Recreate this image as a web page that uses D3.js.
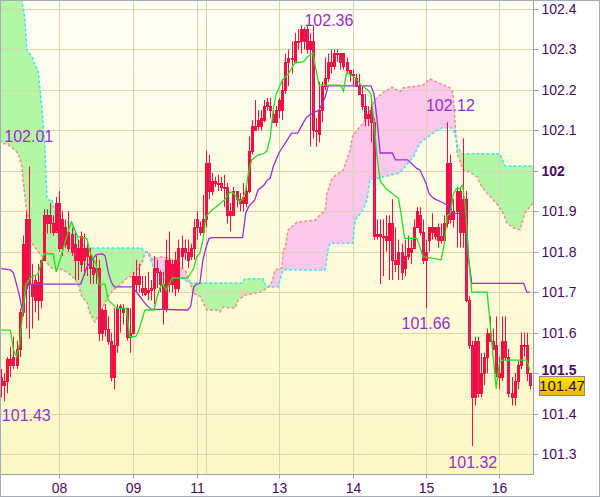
<!DOCTYPE html>
<html><head><meta charset="utf-8">
<script src="https://cdn.jsdelivr.net/npm/d3@7"></script>
<style>
body{margin:0;background:#fff}
svg{display:block}
text{font-family:"Liberation Sans",Arial,sans-serif}
</style>
</head><body>
<svg id="c" width="600" height="497"></svg>
<script>
// ---------- DATA (hourly candles, index 0 = first visible hour) ----------
// [open, high, low, close]
const candles = [
[101.49,101.51,101.44,101.47],[101.47,101.50,101.43,101.48],[101.48,101.54,101.45,101.535],[101.535,101.565,101.49,101.52],
[101.54,101.59,101.51,101.52],[101.52,101.58,101.51,101.56],[101.56,101.66,101.54,101.65],[101.65,101.84,101.64,101.82],
[101.71,101.90,101.61,101.88],[101.88,102.01,101.585,101.72],[101.72,101.77,101.61,101.69],[101.73,101.74,101.65,101.68],
[101.68,101.77,101.63,101.725],[101.68,101.78,101.66,101.78],[101.78,101.905,101.78,101.89],[101.89,101.905,101.845,101.87],
[101.89,101.92,101.845,101.87],[101.87,101.89,101.84,101.85],[101.85,101.935,101.85,101.92],[101.92,101.95,101.80,101.81],
[101.88,101.90,101.79,101.81],[101.82,101.88,101.81,101.86],[101.81,101.90,101.80,101.85],[101.845,101.86,101.79,101.80],
[101.82,101.845,101.73,101.78],[101.78,101.83,101.73,101.81],[101.77,101.85,101.75,101.84],[101.81,101.845,101.74,101.78],
[101.79,101.83,101.74,101.81],[101.79,101.81,101.72,101.76],[101.763,101.78,101.72,101.746],
[101.75,101.79,101.72,101.76],[101.76,101.78,101.58,101.60],[101.60,101.66,101.58,101.655],[101.655,101.67,101.59,101.61],
[101.61,101.64,101.57,101.58],[101.58,101.60,101.48,101.49],[101.49,101.66,101.46,101.57],[101.57,101.67,101.55,101.66],
[101.66,101.67,101.60,101.665],[101.66,101.67,101.62,101.65],[101.66,101.66,101.58,101.59],[101.59,101.66,101.55,101.60],
[101.60,101.75,101.60,101.74],[101.74,101.78,101.70,101.72],[101.74,101.77,101.70,101.72],[101.71,101.74,101.69,101.70],
[101.71,101.74,101.69,101.695],[101.70,101.75,101.68,101.705],[101.705,101.73,101.68,101.71],[101.71,101.79,101.67,101.76],
[101.76,101.78,101.71,101.75],[101.75,101.755,101.70,101.72],[101.72,101.75,101.62,101.66],[101.66,101.83,101.65,101.78],
[101.72,101.85,101.70,101.78],[101.77,101.78,101.70,101.72],[101.71,101.80,101.69,101.78],[101.71,101.83,101.70,101.81],
[101.79,101.84,101.76,101.81],[101.81,101.83,101.78,101.80],
[101.80,101.83,101.76,101.78],[101.79,101.82,101.78,101.81],[101.81,101.88,101.78,101.86],[101.88,101.90,101.83,101.86],
[101.86,101.875,101.84,101.85],[101.85,101.94,101.845,101.88],[101.88,102.05,101.86,102.02],[102.02,102.04,101.93,101.95],
[101.95,101.995,101.94,101.975],[101.975,101.985,101.96,101.97],[101.97,101.99,101.95,101.97],[101.97,101.985,101.95,101.96],
[101.96,101.99,101.91,101.96],[101.96,101.97,101.87,101.89],[101.89,101.92,101.85,101.90],[101.89,101.96,101.89,101.95],
[101.95,101.95,101.91,101.93],[101.93,101.945,101.90,101.92],[101.92,101.97,101.90,101.935],[101.92,101.97,101.91,101.95],
[101.95,102.085,101.945,102.05],[102.05,102.125,102.04,102.11],[102.10,102.175,102.10,102.11],[102.11,102.15,102.10,102.125],
[102.11,102.15,102.10,102.13],[102.126,102.175,102.12,102.16],[102.17,102.18,102.15,102.16],[102.15,102.18,102.13,102.16],
[102.14,102.15,102.12,102.12],[102.12,102.16,102.11,102.15],[102.15,102.18,102.13,102.175],[102.15,102.225,102.125,102.20],
[102.20,102.29,102.19,102.27],[102.27,102.30,102.21,102.28],[102.28,102.32,102.24,102.28],[102.27,102.34,102.27,102.32],
[102.32,102.35,102.30,102.32],[102.32,102.36,102.29,102.35],[102.35,102.355,102.30,102.32],[102.35,102.36,102.29,102.30],
[102.30,102.34,102.06,102.32],[102.32,102.36,102.08,102.10],[102.10,102.13,102.06,102.10],[102.09,102.22,102.07,102.15],
[102.15,102.22,102.12,102.21],[102.21,102.28,102.20,102.23],[102.23,102.29,102.22,102.27],[102.27,102.30,102.24,102.26],
[102.26,102.30,102.25,102.29],[102.29,102.30,102.27,102.29],[102.29,102.29,102.25,102.27],[102.26,102.29,102.25,102.29],
[102.27,102.28,102.24,102.25],[102.25,102.25,102.22,102.24],[102.24,102.25,102.21,102.24],[102.23,102.24,102.21,102.21],
[102.21,102.24,102.19,102.19],[102.19,102.21,102.15,102.16],[102.16,102.19,102.11,102.13],
[102.13,102.16,102.11,102.14],[102.15,102.17,102.07,102.12],[102.12,102.13,101.83,101.84],[101.84,101.88,101.83,101.845],
[101.845,101.88,101.72,101.84],[101.84,101.88,101.74,101.84],[101.84,101.89,101.80,101.83],[101.83,101.89,101.73,101.87],
[101.87,101.93,101.73,101.78],[101.78,101.86,101.75,101.77],[101.77,101.83,101.73,101.80],[101.80,101.82,101.73,101.75],
[101.76,101.83,101.74,101.79],[101.79,101.84,101.78,101.81],[101.80,101.83,101.77,101.81],[101.81,101.88,101.81,101.86],
[101.86,101.91,101.86,101.90],[101.89,101.91,101.84,101.85],[101.85,101.88,101.77,101.78],[101.80,101.83,101.66,101.78],
[101.83,101.86,101.80,101.86],[101.85,101.895,101.83,101.86],[101.84,101.86,101.83,101.86],[101.86,101.87,101.81,101.83],
[101.84,101.87,101.82,101.83],[101.83,101.89,101.82,101.87],[101.87,102.12,101.86,102.02],[102.02,102.04,101.87,101.88],
[101.88,101.93,101.86,101.90],[101.90,101.96,101.81,101.95],[101.95,101.96,101.81,101.85],[101.85,102.08,101.81,101.93],
[101.93,101.95,101.675,101.68],[101.68,101.69,101.56,101.57],[101.57,101.58,101.32,101.44],[101.44,101.59,101.42,101.58],
[101.58,101.59,101.44,101.45],[101.45,101.55,101.44,101.50],[101.50,101.55,101.47,101.54],[101.54,101.61,101.50,101.60],
[101.60,101.64,101.58,101.58],[101.58,101.61,101.56,101.56],[101.57,101.64,101.49,101.50],[101.50,101.54,101.46,101.49],
[101.49,101.64,101.48,101.58],[101.58,101.64,101.53,101.54],[101.54,101.56,101.44,101.45],[101.45,101.49,101.42,101.44],
[101.44,101.50,101.42,101.48],[101.48,101.53,101.46,101.52],[101.52,101.60,101.51,101.57],[101.57,101.60,101.54,101.57],
[101.57,101.60,101.48,101.50],[101.50,101.50,101.46,101.47]
];

// day boundaries (candle index) and labels
const dayLabels = ["08","09","11","12","13","14","15","16"];
const dayIndex  = [19, 43, 64, 67, 91, 115, 139, 163];
const dayShown  = ["08","09","11","13","14","15","16"];

const priceTicks = [101.3,101.4,101.5,101.6,101.7,101.8,101.9,102.0,102.1,102.2,102.3,102.4];
const boldTicks = [101.5, 102.0];

// Ichimoku lines: [candle index, price]
const tenkan = [[0,101.606],[3,101.606],[4,101.557],[5,101.54],[6,101.573],[7,101.647],[8,101.72],[10,101.738],[12,101.745],
[14,101.795],[17,101.795],[18,101.75],[20,101.80],[22,101.853],[23,101.874],[25,101.837],[28,101.833],[29,101.80],[31,101.77],
[32,101.72],[34,101.72],[35,101.68],[38,101.66],[41,101.66],[42,101.59],[44,101.59],[45,101.605],[47,101.656],[50,101.656],
[51,101.688],[52,101.713],[53,101.72],[54,101.705],[56,101.735],[61,101.735],[63,101.759],[64,101.788],[65,101.796],[66,101.829],
[67,101.887],[69,101.903],[71,101.915],[73,101.928],[75,101.948],[76,101.945],[78,101.924],[79,101.93],[80,101.952],[81,102.0],
[82,102.027],[84,102.039],[86,102.043],[87,102.05],[88,102.08],[89,102.15],[90,102.19],[92,102.224],[94,102.24],[96,102.266],
[99,102.27],[100,102.28],[102,102.291],[103,102.25],[104,102.212],[111,102.212],[112,102.197],[113,102.244],[116,102.229],
[118,102.21],[120,102.2],[121,102.19],[122,102.12],[123,102.034],[124,101.975],[126,101.955],[128,101.944],[130,101.932],
[131,101.887],[132,101.833],[136,101.833],[137,101.812],[138,101.788],[144,101.78],[145,101.82],[146,101.89],[147,101.894],
[148,101.944],[149,101.956],[150,101.956],[151,101.964],[152,101.90],[153,101.78],[154,101.70],[159,101.70],[160,101.622],
[161,101.54],[162,101.462],[163,101.525],[164,101.532],[172,101.532],[173,101.507]];

const kijun = [[0,101.758],[3,101.755],[4,101.748],[5,101.72],[6,101.69],[7,101.65],[8,101.705],[9,101.72],[26,101.72],
[27,101.74],[28,101.762],[31,101.792],[33,101.795],[34,101.79],[35,101.75],[36,101.725],[37,101.713],[43,101.713],[45,101.693],
[47,101.673],[49,101.658],[61,101.656],[62,101.665],[63,101.713],[64,101.72],[65,101.722],[66,101.78],[67,101.81],[68,101.833],
[69,101.835],[79,101.835],[80,101.895],[81,101.912],[83,101.928],[84,101.952],[86,101.965],[87,101.977],[88,101.981],[89,102.01],
[91,102.046],[93,102.069],[95,102.093],[97,102.093],[99,102.121],[100,102.133],[102,102.143],[104,102.15],[106,102.182],
[107,102.21],[121,102.21],[122,102.19],[123,102.126],[124,102.044],[128,102.044],[129,102.027],[133,102.027],[134,102.02],
[136,102.006],[137,102.002],[139,101.97],[140,101.944],[141,101.935],[142,101.93],[144,101.923],[146,101.915],[147,101.90],
[148,101.895],[152,101.895],[153,101.78],[154,101.722],[171,101.722],[172,101.70],[173,101.70]];

const senkouA = [[-1,102.56],[6,102.46],[6.8,102.42],[7.8,102.373],[8.4,102.299],[10.1,102.281],[11,102.262],[12,102.25],
[13.3,102.158],[14.3,102.059],[14.6,101.995],[15,101.928],[16.6,101.928],[17.6,101.896],[18.6,101.878],[23.2,101.871],
[24.1,101.846],[25.1,101.829],[28,101.809],[46,101.809],[46.4,101.804],[48,101.797],[49.3,101.772],[50.3,101.75],[52,101.747],
[58.5,101.737],[60.1,101.73],[61.8,101.723],[78.8,101.723],[79.8,101.733],[85.7,101.733],[86.7,101.713],[90.6,101.713],
[92.2,101.755],[106,101.755],[106.9,101.804],[107.6,101.821],[115.1,101.821],[115.8,101.878],[118.4,101.903],[119.7,101.928],
[120.7,101.977],[130.5,101.995],[134.8,102.034],[137.1,102.069],[141.3,102.093],[144.3,102.106],[147.9,102.106],[149.5,102.059],
[150.8,102.042],[163.2,102.042],[164.9,102.012],[176,102.012]];

const senkouB = [[-1,102.07],[1.9,102.066],[3.8,102.056],[5.5,102.044],[6.8,102.009],[7.1,101.977],[7.8,101.935],[8.4,101.896],
[8.8,101.846],[10.1,101.821],[11.7,101.804],[15,101.772],[16.6,101.76],[18.3,101.755],[19.2,101.758],[21.5,101.75],[23.5,101.737],
[25.1,101.723],[26.4,101.688],[28.1,101.675],[29,101.648],[30.7,101.626],[31.7,101.64],[33.3,101.664],[34.9,101.688],
[36.6,101.705],[38.9,101.718],[41.2,101.735],[42.8,101.74],[44.4,101.755],[46.1,101.772],[47,101.797],[48,101.80],[49.7,101.78],
[51,101.785],[52.6,101.787],[54.3,101.785],[56.2,101.78],[58.5,101.762],[60.1,101.755],[60.8,101.745],[61.8,101.723],
[62.8,101.698],[65.1,101.69],[67.3,101.656],[70.6,101.656],[71.6,101.651],[72.6,101.663],[76.5,101.66],[77.5,101.68],
[79.8,101.693],[84.7,101.70],[87,101.71],[88.6,101.725],[89.6,101.755],[91.9,101.76],[92.2,101.804],[92.9,101.809],
[93.9,101.854],[96.8,101.873],[102.7,101.878],[106,101.903],[106.6,101.945],[108.3,101.982],[111.9,102.002],[114.1,102.051],
[115.1,102.088],[118.4,102.118],[120.7,102.15],[122.3,102.175],[124.6,102.192],[127.9,102.207],[130.5,102.195],[131.5,102.205],
[138,102.212],[140.3,102.227],[146.9,102.205],[147.9,102.192],[149.2,102.044],[151.1,102.002],[153.4,101.997],[155.7,101.985],
[157.3,101.96],[159,101.945],[162.6,101.915],[164.2,101.896],[165.5,101.871],[167.5,101.859],[169.8,101.854],[171.4,101.896],
[174,101.92],[176,101.93]];

// labelled extremes
const extremeIndex = [9, 102, 146, 1, 139, 154];
const extremeValue = [102.01, 102.36, 102.12, 101.43, 101.66, 101.32];
const lastPrice = 101.47;

// ---------- LAYOUT / STYLE ----------
const W = 600, H = 497, plotR = 533, plotB = 474;
const labelOffsets = [[0,-25],[16,1],[3,-11],[22,20],[0,21],[1,22]];

const svg = d3.select("#c");
const x = d3.scaleLinear().domain([19,163]).range([59.3,499.3]);
const y = d3.scaleLinear().domain([101.3,102.4]).range([454,9]);

const defs = svg.append("defs");
const bg = defs.append("linearGradient").attr("id","bg").attr("x1",0).attr("y1",0).attr("x2",0).attr("y2",1);
bg.append("stop").attr("offset","0%").attr("stop-color","#fffff6");
bg.append("stop").attr("offset","100%").attr("stop-color","#fcf8c4");
const tg = defs.append("linearGradient").attr("id","tag").attr("x1",0).attr("y1",0).attr("x2",0).attr("y2",1);
tg.append("stop").attr("offset","0%").attr("stop-color","#ffe21a");
tg.append("stop").attr("offset","100%").attr("stop-color","#f2b400");
defs.append("clipPath").attr("id","plotClip").append("rect").attr("x",0).attr("y",0).attr("width",plotR).attr("height",plotB);

const aboveLine = d3.area().x(d=>x(d[0])).y0(-200).y1(d=>y(d[1]));
const belowLine = d3.area().x(d=>x(d[0])).y0(800).y1(d=>y(d[1]));
defs.append("clipPath").attr("id","aboveB").append("path").attr("d", aboveLine(senkouB));
defs.append("clipPath").attr("id","belowB").append("path").attr("d", belowLine(senkouB));

svg.append("rect").attr("width",W).attr("height",H).attr("fill","#fff");

const plot = svg.append("g").attr("clip-path","url(#plotClip)");
plot.append("rect").attr("width",plotR).attr("height",plotB).attr("fill","url(#bg)");

// cloud
plot.append("g").attr("clip-path","url(#aboveB)").append("path")
  .attr("d", belowLine(senkouA)).attr("fill","#b3f6a3");
plot.append("g").attr("clip-path","url(#belowB)").append("path")
  .attr("d", aboveLine(senkouA)).attr("fill","#fcc8ec");

// grid
const gridY = plot.append("g").call(d3.axisRight(y).tickValues(priceTicks).tickSize(plotR).tickFormat(""));
const gridX = plot.append("g").call(d3.axisBottom(x).tickValues(dayIndex).tickSize(plotB).tickFormat(""));
[gridY, gridX].forEach(g=>{
  g.select(".domain").remove();
  g.selectAll("line").attr("stroke","#d9d5b0").attr("stroke-width",1);
});
gridY.selectAll(".tick").attr("transform", d=>`translate(0,${Math.round(y(d))+0.5})`);
gridX.selectAll(".tick").attr("transform", d=>`translate(${Math.round(x(d))+0.5},0)`);

// cloud edges
const line = d3.line().x(d=>x(d[0])).y(d=>y(d[1]));
plot.append("path").attr("d", line(senkouB)).attr("fill","none")
  .attr("stroke","#f29088").attr("stroke-width",1.5).attr("stroke-dasharray","3,2");
plot.append("path").attr("d", line(senkouA)).attr("fill","none")
  .attr("stroke","#3ee4f6").attr("stroke-width",1.5).attr("stroke-dasharray","3,2");

// candles
const cg = plot.append("g");
candles.forEach((c,i)=>{
  const [o,h,l,cl] = c;
  const cx = Math.round(x(i)) + 0.5;
  cg.append("line").attr("x1",cx).attr("x2",cx).attr("y1",y(h)).attr("y2",y(l))
    .attr("stroke","#ff0a3c").attr("stroke-width",1);
  const top = Math.round(y(Math.max(o,cl))) + 0.5;
  const bot = Math.round(y(Math.min(o,cl))) + 0.5;
  cg.append("rect").attr("x",cx-1).attr("y",top).attr("width",2).attr("height",Math.max(1,bot-top))
    .attr("fill", cl < o ? "#b8307e" : "none").attr("stroke","#ff0a3c").attr("stroke-width",1);
});

// tenkan / kijun
plot.append("path").attr("d", line(kijun)).attr("fill","none").attr("stroke","#9a2fd6").attr("stroke-width",1.3);
plot.append("path").attr("d", line(tenkan)).attr("fill","none").attr("stroke","#22e01e").attr("stroke-width",1.3);

// extreme labels
extremeValue.forEach((v,j)=>{
  plot.append("text").attr("x", x(extremeIndex[j]) + labelOffsets[j][0])
    .attr("y", y(v) + labelOffsets[j][1]).attr("text-anchor","middle")
    .attr("font-size",16).attr("fill","#9530d0").text(v.toFixed(2));
});

// axes
const axR = svg.append("g").attr("transform",`translate(${plotR+0.5},0)`)
  .call(d3.axisRight(y).tickValues(priceTicks).tickSize(5).tickPadding(3)
    .tickFormat(d=> boldTicks.includes(d) ? d3.format("")(+d.toFixed(1)) : d.toFixed(1)));
axR.select(".domain").remove();
axR.selectAll(".tick").attr("transform", d=>`translate(0,${Math.round(y(d))+0.5})`);
axR.selectAll("line").attr("stroke","#98a2ab");
axR.selectAll("text").attr("font-size",14).attr("fill","#4b0a62")
  .attr("font-family","Liberation Sans, Arial, sans-serif")
  .attr("font-weight", d=> boldTicks.includes(d) ? "bold" : "normal")
  .attr("dy", d=> d === 101.5 ? "0.1em" : "0.32em");

const axB = svg.append("g").attr("transform",`translate(0,${plotB+0.5})`)
  .call(d3.axisBottom(x).tickValues(dayIndex.filter((d,i)=>dayShown.includes(dayLabels[i])))
    .tickSize(4).tickPadding(5).tickFormat(d=>dayLabels[dayIndex.indexOf(d)]));
axB.select(".domain").remove();
axB.selectAll(".tick").attr("transform", d=>`translate(${Math.round(x(d))+0.5},0)`);
axB.selectAll("line").attr("stroke","#98a2ab");
axB.selectAll("text").attr("font-size",14).attr("fill","#4b0a62")
  .attr("font-family","Liberation Sans, Arial, sans-serif");

// frame lines
svg.append("line").attr("x1",plotR+0.5).attr("x2",plotR+0.5).attr("y1",0).attr("y2",plotB+0.5).attr("stroke","#98a2ab");
svg.append("line").attr("x1",0).attr("x2",plotR+0.5).attr("y1",plotB+0.5).attr("y2",plotB+0.5).attr("stroke","#98a2ab");
svg.append("rect").attr("x",0.5).attr("y",0.5).attr("width",W-1).attr("height",H-1)
  .attr("fill","none").attr("stroke","#a3acb4");

// last price tag
const ty = y(lastPrice);
svg.append("rect").attr("x",539.5).attr("y",Math.round(ty-9.5)+0.5).attr("width",45).attr("height",19)
  .attr("fill","url(#tag)").attr("stroke","#8a8a8a");
svg.append("text").attr("x",562).attr("y",ty+5.5).attr("text-anchor","middle")
  .attr("font-size",15).attr("fill","#1a1a1a").text(lastPrice.toFixed(2));
</script>
</body></html>
